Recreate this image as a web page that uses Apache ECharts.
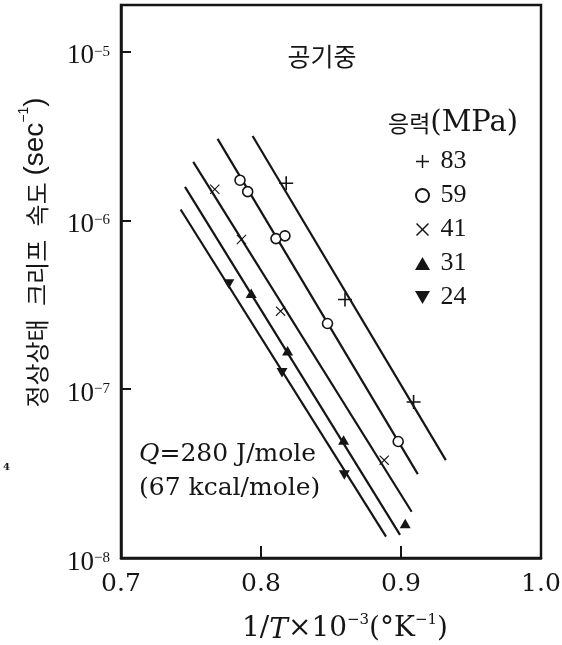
<!DOCTYPE html>
<html>
<head>
<meta charset="utf-8">
<script src="https://cdn.jsdelivr.net/npm/echarts@6/dist/echarts.min.js"></script>
<style>
html,body{margin:0;padding:0;background:#fff;}
#chart{width:562px;height:645px;}
</style>
</head>
<body>
<div id="chart"></div>
<script>
// ---- data ----
const stressLevels = ['83', '59', '41', '31', '24'];

const invT_83 = [0.818, 0.860, 0.909];
const rate_83 = [1.66e-6, 3.40e-7, 8.4e-8];
const invT_59 = [0.785, 0.7905, 0.8107, 0.8171, 0.8475, 0.898];
const rate_59 = [1.73e-6, 1.48e-6, 7.8e-7, 8.1e-7, 2.45e-7, 4.9e-8];
const invT_41 = [0.767, 0.786, 0.814, 0.888];
const rate_41 = [1.53e-6, 7.7e-7, 2.9e-7, 3.8e-8];
const invT_31 = [0.793, 0.819, 0.859, 0.903];
const rate_31 = [3.7e-7, 1.69e-7, 5.0e-8, 1.6e-8];
const invT_24 = [0.777, 0.815, 0.8595];
const rate_24 = [4.2e-7, 1.25e-7, 3.1e-8];

// fitted straight lines (end points)
const fitInvT_83 = [0.794, 0.932];
const fitRate_83 = [3.16e-6, 3.8e-8];
const fitInvT_59 = [0.769, 0.912];
const fitRate_59 = [3.04e-6, 3.14e-8];
const fitInvT_41 = [0.7516, 0.9076];
const fitRate_41 = [2.22e-6, 1.88e-8];
const fitInvT_31 = [0.7457, 0.8993];
const fitRate_31 = [1.58e-6, 1.37e-8];
const fitInvT_24 = [0.7426, 0.8893];
const fitRate_24 = [1.16e-6, 1.34e-8];

const xTickLabels = ['0.7', '0.8', '0.9', '1.0'];
const yTickExponents = [-8, -7, -6, -5];

// ---- build ----
const INK = '#151515';
const pts = (xs, ys) => xs.map((x, i) => [x, Math.log10(ys[i])]);
const PLUS = 'path://M6.2,0H7.8V6.2H14V7.8H7.8V14H6.2V7.8H0V6.2H6.2Z';
const CROSS = 'path://M1.1,0L7,5.9L12.9,0L14,1.1L8.1,7L14,12.9L12.9,14L7,8.1L1.1,14L0,12.9L5.9,7L0,1.1Z';
const TRI_UP = 'path://M6,0L12,10.4H0Z';
const TRI_DOWN = 'path://M0,0H12L6,10.4Z';

const markerDefs = {
  '83': {symbol: PLUS, size: 14, fill: INK, border: 0},
  '59': {symbol: 'circle', size: 10, fill: '#fff', border: 1.6},
  '41': {symbol: CROSS, size: 10, fill: INK, border: 0},
  '31': {symbol: TRI_UP, size: 11, fill: INK, border: 0},
  '24': {symbol: TRI_DOWN, size: 11, fill: INK, border: 0}
};
const pointSets = {
  '83': pts(invT_83, rate_83), '59': pts(invT_59, rate_59), '41': pts(invT_41, rate_41),
  '31': pts(invT_31, rate_31), '24': pts(invT_24, rate_24)
};
const fitSets = {
  '83': pts(fitInvT_83, fitRate_83), '59': pts(fitInvT_59, fitRate_59), '41': pts(fitInvT_41, fitRate_41),
  '31': pts(fitInvT_31, fitRate_31), '24': pts(fitInvT_24, fitRate_24)
};

const series = [];
stressLevels.forEach(s => {
  series.push({
    type: 'line', name: 'fit' + s, data: fitSets[s], showSymbol: false, symbol: 'none',
    lineStyle: {color: INK, width: 2.2}, z: 2, silent: true
  });
});
stressLevels.forEach(s => {
  const m = markerDefs[s];
  series.push({
    type: 'scatter', name: s, data: pointSets[s], symbol: m.symbol, symbolSize: m.size,
    symbolKeepAspect: true,
    itemStyle: {color: m.fill, borderColor: INK, borderWidth: m.border, opacity: 1},
    z: 5
  });
});

const chart = echarts.init(document.getElementById('chart'), null, {renderer: 'canvas'});
chart.setOption({
  animation: false,
  backgroundColor: '#fff',
  grid: {left: 121, right: 21, top: 5, bottom: 87, show: true, borderColor: INK, borderWidth: 2.5,
         containLabel: false, outerBoundsMode: 'none'},
  xAxis: {
    type: 'value', min: 0.7, max: 1.0, interval: 0.1,
    axisLine: {show: true, lineStyle: {color: INK, width: 2.5}},
    axisTick: {show: true, inside: true, length: 12, lineStyle: {color: INK, width: 2}},
    splitLine: {show: false},
    axisLabel: {
      margin: 14, color: INK, fontFamily: 'DejaVu Serif', fontSize: 25,
      formatter: v => { const i = Math.round((v - 0.7) * 10); return xTickLabels[i] !== undefined ? xTickLabels[i] : ''; }
    },
    name: '1/{i|T}×10{s|−3}(°K{s|−1})',
    nameLocation: 'middle', nameGap: 55,
    nameTextStyle: {
      color: INK, fontFamily: 'DejaVu Serif', fontSize: 28, padding: [0, 0, 0, 28],
      rich: {
        i: {fontFamily: 'DejaVu Serif', fontStyle: 'italic', fontSize: 28, color: INK, lineHeight: 32, verticalAlign: 'bottom'},
        s: {fontFamily: 'DejaVu Serif', fontSize: 15, color: INK, lineHeight: 32, verticalAlign: 'top'}
      }
    }
  },
  yAxis: {
    type: 'value', min: -8, max: -4.724, interval: 1,
    axisLine: {show: true, lineStyle: {color: INK, width: 2.5}},
    axisTick: {show: true, inside: true, length: 10, lineStyle: {color: INK, width: 2}},
    splitLine: {show: false},
    axisLabel: {
      margin: 11, color: INK,
      formatter: v => {
        const r = Math.round(v);
        if (Math.abs(v - r) > 1e-6 || yTickExponents.indexOf(r) < 0) return '';
        return '{b|10}{s|−' + (-r) + '}';
      },
      rich: {
        b: {fontFamily: 'Liberation Serif', fontSize: 27, color: INK, lineHeight: 26, verticalAlign: 'bottom'},
        s: {fontFamily: 'Liberation Serif', fontSize: 15, color: INK, lineHeight: 36, verticalAlign: 'middle'}
      }
    },
    name: '{k|정상상태}{g|  }{k|크리프}{g|  }{k|속도}{g| }{e|(sec}{s|−1}{e|)}',
    nameLocation: 'middle', nameGap: 72, nameRotate: 90,
    nameTextStyle: {
      color: INK, padding: [0, 0, 0, 58],
      rich: {
        k: {fontFamily: 'Noto Sans CJK KR', fontSize: 24, color: INK, lineHeight: 32, verticalAlign: 'bottom'},
        g: {fontFamily: 'Liberation Sans', fontSize: 24, color: INK, lineHeight: 32, verticalAlign: 'bottom'},
        e: {fontFamily: 'Liberation Sans', fontSize: 28, color: INK, lineHeight: 32, verticalAlign: 'bottom'},
        s: {fontFamily: 'Liberation Sans', fontSize: 14, color: INK, lineHeight: 32, verticalAlign: 'top'}
      }
    }
  },
  legend: {
    orient: 'vertical', left: 410, top: 143, itemWidth: 26, itemHeight: 13, itemGap: 7,
    selectedMode: false, data: stressLevels,
    textStyle: {fontFamily: 'Liberation Serif', fontSize: 26, color: INK, lineHeight: 27}
  },
  graphic: [
    {type: 'text', x: 322, y: 56, style: {text: '공기중', fontFamily: 'Noto Sans CJK KR', fontSize: 25,
      fill: INK, align: 'center', verticalAlign: 'middle'}},
    {type: 'text', x: 388, y: 123, style: {text: '{k|응력}{m|(MPa)}', verticalAlign: 'middle', fill: INK,
      rich: {k: {fontFamily: 'Noto Sans CJK KR', fontSize: 23, fill: INK},
             m: {fontFamily: 'DejaVu Serif', fontSize: 29, fill: INK}}}},
    {type: 'text', x: 139, y: 437, style: {text: '{q|Q}{t|=280 J/mole}\n{t|(67 kcal/mole)}', fill: INK,
      rich: {q: {fontFamily: 'DejaVu Serif', fontStyle: 'italic', fontSize: 25, lineHeight: 34, fill: INK},
             t: {fontFamily: 'DejaVu Serif', fontSize: 25, lineHeight: 34, fill: INK}}}},
    {type: 'text', x: 3, y: 462, style: {text: '4', fontFamily: 'DejaVu Serif', fontSize: 10, fontWeight: 'bold', fill: INK}}
  ],
  series: series
});
</script>
</body>
</html>
